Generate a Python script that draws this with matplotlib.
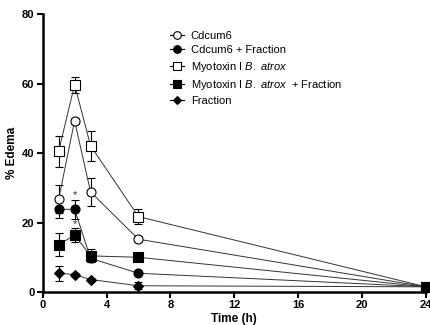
import matplotlib
matplotlib.use('Agg')
import matplotlib.pyplot as plt
from matplotlib.lines import Line2D

plt.rcParams['font.family'] = ['Liberation Sans', 'DejaVu Sans']
plt.rcParams['mathtext.fontset'] = 'custom'
plt.rcParams['mathtext.rm'] = 'Liberation Sans'
plt.rcParams['mathtext.it'] = 'Liberation Sans:italic'

time_h = [1, 2, 3, 6, 24]

cdcum6 = [26.7, 49.3, 28.8, 15.2, 1.5]
cdcum6_err = [4.0, 0.8, 3.9, 0.8, 0.8]

cdcum6_frac = [23.8, 23.8, 9.7, 5.4, 1.5]
cdcum6_frac_err = [2.4, 2.7, 1.2, 0.6, 0.8]

myo = [40.5, 59.7, 42.1, 21.7, 1.5]
myo_err = [4.5, 2.3, 4.3, 2.1, 0.8]

myo_frac = [13.6, 16.4, 10.4, 10.0, 1.5]
myo_frac_err = [3.3, 2.0, 1.9, 1.0, 0.8]

frac = [5.4, 5.0, 3.6, 1.8, 1.5]
frac_err = [2.2, 0.4, 0.4, 1.0, 0.8]

# significance marks (x, y)
star_x = [2, 2]
star_y = [28.0, 19.6]

fig = plt.figure(figsize=(4.31, 3.25), dpi=100)
ax = fig.add_axes([0.099, 0.1015, 0.889, 0.855])

series = [
    (cdcum6, cdcum6_err, 'o', 'white', 'Cdcum6'),
    (cdcum6_frac, cdcum6_frac_err, 'o', 'black', 'Cdcum6 + Fraction'),
    (myo, myo_err, 's', 'white', r'Myotoxin I $\it{B.\ atrox}$'),
    (myo_frac, myo_frac_err, 's', 'black', r'Myotoxin I $\it{B.\ atrox}$  + Fraction'),
    (frac, frac_err, 'D', 'black', 'Fraction'),
]

handles = []
for vals, errs, mk, fc, lab in series:
    ms = 5.5 if mk == 'D' else 6.5
    ax.errorbar(time_h, vals, yerr=errs, marker=mk, markersize=ms,
                markerfacecolor=fc, markeredgecolor='black', markeredgewidth=0.8,
                color='#333333', linewidth=0.7, ecolor='black', elinewidth=0.8,
                capsize=3, capthick=0.8, clip_on=False, zorder=3)
    handles.append(Line2D([], [], marker=mk, markersize=ms - 1, markerfacecolor=fc,
                          markeredgecolor='black', markeredgewidth=0.8,
                          color='black', linewidth=0.8, label=lab))

for sx, sy in zip(star_x, star_y):
    ax.text(sx, sy, '*', ha='center', va='center', fontsize=8, color='#333333',
            zorder=5)

ax.set_xlim(0, 24)
ax.set_ylim(0, 80)
ax.set_xticks([0, 4, 8, 12, 16, 20, 24])
ax.set_yticks([0, 20, 40, 60, 80])
for s in ['top', 'right']:
    ax.spines[s].set_visible(False)
for s in ['left', 'bottom']:
    ax.spines[s].set_linewidth(1.8)
ax.tick_params(width=1.5, length=4, labelsize=8, pad=2)
for t in ax.get_xticklabels() + ax.get_yticklabels():
    t.set_fontweight('bold')

ax.set_xlabel('Time (h)', fontsize=8.5, fontweight='bold', labelpad=2)
ax.set_ylabel('% Edema', fontsize=8.5, fontweight='bold', labelpad=3)

ax.legend(handles=handles, loc='upper left', bbox_to_anchor=(0.32, 0.955),
          frameon=False, fontsize=8, handlelength=1.3, handletextpad=0.6,
          labelspacing=0.38, borderaxespad=0)

fig.savefig('out.png', dpi=100)
